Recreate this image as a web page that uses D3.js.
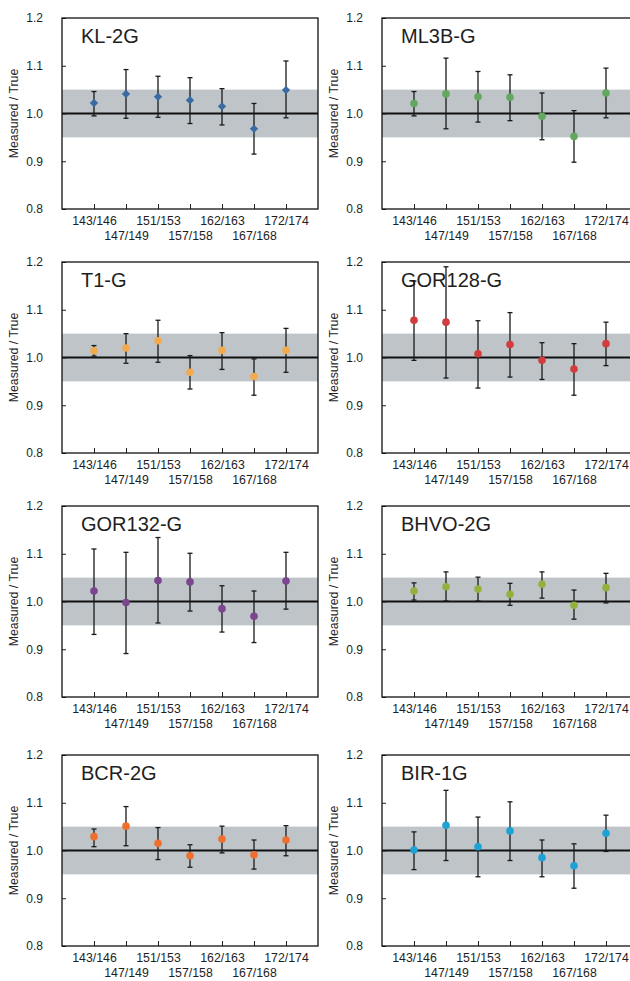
<!DOCTYPE html>
<html>
<head>
<meta charset="utf-8">
<script src="https://cdn.jsdelivr.net/npm/d3@7"></script>
<style>
  body { margin: 0; background: #fff; }
  text { font-family: "Liberation Sans", Arial, sans-serif; fill: #1e1e1e; }
</style>
</head>
<body>
<script>
// isotope pairs on the x axis
const isotopes = ["143/146", "147/149", "151/153", "157/158", "162/163", "167/168", "172/174"];
const yTicks = [0.8, 0.9, 1.0, 1.1, 1.2];
const samples = ["KL-2G", "ML3B-G", "T1-G", "GOR128-G", "GOR132-G", "BHVO-2G", "BCR-2G", "BIR-1G"];

// measured / true, with lower and upper end of the error bar
const kl2gMean   = [1.022, 1.041, 1.035, 1.028, 1.015, 0.968, 1.049];
const kl2gLow    = [0.995, 0.990, 0.992, 0.979, 0.976, 0.915, 0.991];
const kl2gHigh   = [1.046, 1.092, 1.078, 1.075, 1.052, 1.021, 1.110];

const ml3bMean   = [1.021, 1.041, 1.035, 1.034, 0.994, 0.952, 1.043];
const ml3bLow    = [0.995, 0.968, 0.982, 0.985, 0.945, 0.898, 0.991];
const ml3bHigh   = [1.046, 1.116, 1.088, 1.081, 1.043, 1.006, 1.095];

const t1gMean    = [1.014, 1.020, 1.035, 0.969, 1.015, 0.960, 1.015];
const t1gLow     = [1.003, 0.988, 0.990, 0.934, 0.975, 0.921, 0.969];
const t1gHigh    = [1.025, 1.050, 1.078, 1.004, 1.052, 0.997, 1.061];

const gor128Mean = [1.078, 1.074, 1.008, 1.027, 0.994, 0.976, 1.029];
const gor128Low  = [0.994, 0.957, 0.936, 0.959, 0.954, 0.921, 0.983];
const gor128High = [1.160, 1.190, 1.077, 1.094, 1.031, 1.029, 1.074];

const gor132Mean = [1.022, 0.998, 1.044, 1.041, 0.985, 0.969, 1.043];
const gor132Low  = [0.931, 0.891, 0.955, 0.980, 0.936, 0.914, 0.984];
const gor132High = [1.110, 1.103, 1.134, 1.101, 1.033, 1.022, 1.103];

const bhvoMean   = [1.022, 1.031, 1.026, 1.015, 1.036, 0.992, 1.029];
const bhvoLow    = [1.003, 1.001, 1.001, 0.992, 1.007, 0.963, 0.997];
const bhvoHigh   = [1.039, 1.062, 1.051, 1.038, 1.062, 1.024, 1.059];

const bcrMean    = [1.029, 1.051, 1.015, 0.989, 1.024, 0.991, 1.022];
const bcrLow     = [1.008, 1.010, 0.981, 0.965, 0.995, 0.961, 0.989];
const bcrHigh    = [1.045, 1.092, 1.048, 1.012, 1.051, 1.022, 1.052];

const birMean    = [1.001, 1.053, 1.008, 1.041, 0.985, 0.968, 1.036];
const birLow     = [0.960, 0.979, 0.945, 0.979, 0.945, 0.921, 0.998];
const birHigh    = [1.039, 1.126, 1.070, 1.102, 1.022, 1.014, 1.074];

const means = [kl2gMean, ml3bMean, t1gMean, gor128Mean, gor132Mean, bhvoMean, bcrMean, birMean];
const lows  = [kl2gLow, ml3bLow, t1gLow, gor128Low, gor132Low, bhvoLow, bcrLow, birLow];
const highs = [kl2gHigh, ml3bHigh, t1gHigh, gor128High, gor132High, bhvoHigh, bcrHigh, birHigh];

const colors = ["#3b6ba3", "#62a85e", "#f3aa4e", "#d23c3c", "#7b4590", "#92b13f", "#ef6f2e", "#1ea2d6"];

const svg = d3.select("body").append("svg")
  .attr("width", 630)
  .attr("height", 981);

const colLeft = [62, 382];
const rowTop = [18, 262, 506, 755];
const w = 256, h = 191;

const x = d3.scalePoint().domain(isotopes).range([0, w]).padding(1);
const y = d3.scaleLinear().domain([0.8, 1.2]).range([h, 0]);

samples.forEach((name, k) => {
  const g = svg.append("g")
    .attr("transform", `translate(${colLeft[k % 2]},${rowTop[Math.floor(k / 2)]})`);

  const pts = isotopes.map((iso, i) => ({iso: iso, mean: means[k][i], low: lows[k][i], high: highs[k][i]}));

  // reference band +-5%
  g.append("rect")
    .attr("x", 0).attr("width", w)
    .attr("y", y(1.05)).attr("height", y(0.95) - y(1.05))
    .attr("fill", "#bec4c8");

  g.append("line")
    .attr("x1", 0).attr("x2", w)
    .attr("y1", y(1.0)).attr("y2", y(1.0))
    .attr("stroke", "#111").attr("stroke-width", 2);

  // title
  g.append("text")
    .attr("x", 19).attr("y", 25)
    .attr("font-size", 20)
    .attr("stroke", "#fff").attr("stroke-width", 3)
    .attr("paint-order", "stroke")
    .text(name);

  // axes
  const yAxis = g.append("g")
    .call(d3.axisLeft(y).tickValues(yTicks).tickFormat(d3.format(".1f")).tickSize(-4).tickPadding(19));
  yAxis.select(".domain").remove();
  yAxis.selectAll("line").attr("stroke", "#222");
  yAxis.selectAll("text").attr("font-size", 12);

  const xAxis = g.append("g")
    .attr("transform", `translate(0,${h})`)
    .call(d3.axisBottom(x).tickSize(-5).tickPadding(0));
  xAxis.select(".domain").remove();
  xAxis.selectAll("line").attr("stroke", "#222");
  xAxis.selectAll("text")
    .attr("font-size", 12.3)
    .attr("dy", null)
    .attr("y", (d, i) => i % 2 === 0 ? 16 : 31);

  g.append("text")
    .attr("transform", `translate(-44,${h / 2}) rotate(-90)`)
    .attr("text-anchor", "middle")
    .attr("font-size", 12.3)
    .text("Measured / True");

  // error bars
  const bars = g.selectAll(".err").data(pts).enter().append("g").attr("class", "err");
  bars.append("line")
    .attr("x1", d => x(d.iso)).attr("x2", d => x(d.iso))
    .attr("y1", d => y(d.low)).attr("y2", d => y(d.high));
  bars.append("line")
    .attr("x1", d => x(d.iso) - 2.5).attr("x2", d => x(d.iso) + 2.5)
    .attr("y1", d => y(d.low)).attr("y2", d => y(d.low));
  bars.append("line")
    .attr("x1", d => x(d.iso) - 2.5).attr("x2", d => x(d.iso) + 2.5)
    .attr("y1", d => y(d.high)).attr("y2", d => y(d.high));
  bars.selectAll("line").attr("stroke", "#1a1a1a").attr("stroke-width", 1.3);

  // markers
  if (k === 0) {
    g.selectAll(".pt").data(pts).enter().append("path")
      .attr("class", "pt")
      .attr("d", d3.symbol(d3.symbolDiamond2, 44))
      .attr("transform", d => `translate(${x(d.iso)},${y(d.mean)})`)
      .attr("fill", colors[k]);
  } else {
    g.selectAll(".pt").data(pts).enter().append("circle")
      .attr("class", "pt")
      .attr("cx", d => x(d.iso)).attr("cy", d => y(d.mean))
      .attr("r", 3.8)
      .attr("fill", colors[k]);
  }

  g.append("rect")
    .attr("width", w).attr("height", h)
    .attr("fill", "none")
    .attr("stroke", "#111").attr("stroke-width", 1.3);
});
</script>
</body>
</html>
